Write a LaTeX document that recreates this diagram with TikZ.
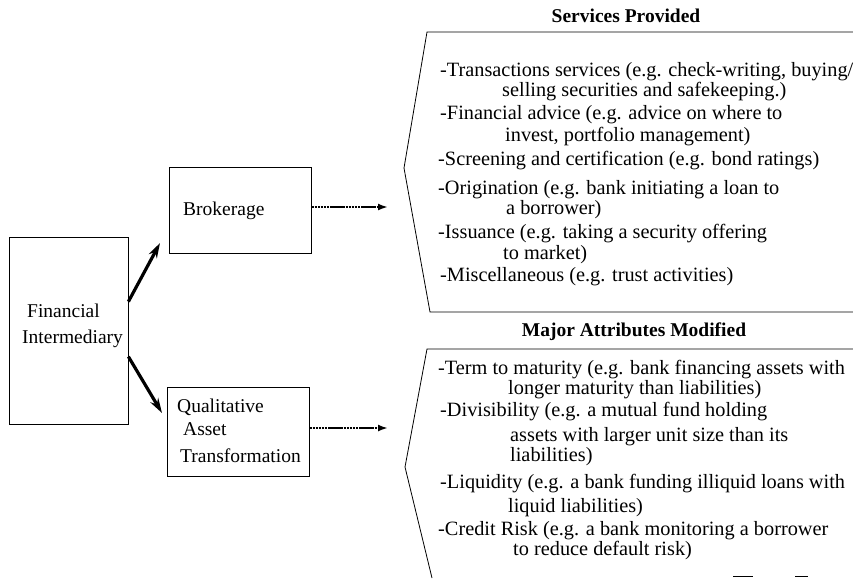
\documentclass[tikz,border=0pt]{standalone}
\usepackage{fontspec}
\setmainfont{Liberation Serif}
\usetikzlibrary{arrows.meta}
\begin{document}
\begin{tikzpicture}[x=1pt,y=-1pt,
  font=\fontsize{19.5}{21}\selectfont,
  box/.style={draw, line width=0.8pt, inner sep=0pt},
  txt/.style={anchor=base west, inner sep=0pt},
  ltxt/.style={anchor=base west, inner sep=0pt, font=\fontsize{20.3}{22}\selectfont},
  hd/.style={anchor=base, inner sep=0pt, font=\fontsize{19.5}{21}\selectfont\bfseries},
  bigarrow/.style={line width=3.2pt, -{Stealth[length=15pt,width=9pt]}},
  dotarrow/.style={line width=2.6pt, dash pattern=on 2.5pt off 0.6pt, -{Latex[length=10pt,width=7pt]}},
  bracket/.style={line width=0.8pt, line join=miter}]
\useasboundingbox (0,0) rectangle (853,578);

% boxes
\node[box, minimum width=119pt, minimum height=187pt] (fi) at (68.5,330.5) {};
\node[box, minimum width=142pt, minimum height=86pt] (brok) at (240,210) {};
\node[box, minimum width=142pt, minimum height=89pt] (qat) at (238,431.5) {};

% box texts
\node[txt] (fi1) at (27,317) {Financial};
\node[txt] (fi2) at (22,343) {Intermediary};
\node[txt] (br1) at (183,215) {Brokerage};
\node[txt] (q1) at (177,412) {Qualitative};
\node[txt] (q2) at (183,435) {Asset};
\node[txt] (q3) at (180,462) {Transformation};

% thick arrows
\coordinate (tip1) at (160,243);
\coordinate (tip2) at (162,413);
\draw[bigarrow] ([yshift=-65pt]fi.north east) -- (tip1);
\draw[bigarrow] ([yshift=-120pt]fi.north east) -- (tip2);

% dotted arrows
\coordinate (e1) at (388,207);
\coordinate (e2) at (388,428);
\draw[dotarrow] ([yshift=3pt]brok.east) -- (e1);
\draw[dotarrow] ([yshift=3.5pt]qat.east) -- (e2);

% brackets
\draw[bracket] (853,32) -- (427,32) -- (404,168) -- (430,312) -- (853,312);
\draw[bracket] (853,349) -- (427,349) -- (405,467) -- (432,578);
\draw[bracket] (733,576) -- (753,576);
\draw[bracket] (795,576) -- (808,576);

% services
\node[hd] (h1) at (626,23) {Services Provided};
\node[ltxt] (s1) at (440,76) {-Transactions services (e.g. check-writing, buying/};
\node[ltxt] (s2) at (502,96) {selling securities and safekeeping.)};
\node[ltxt] (s3) at (440,119) {-Financial advice (e.g. advice on where to};
\node[ltxt] (s4) at (505,141) {invest, portfolio management)};
\node[ltxt] (s5) at (438,165) {-Screening and certification (e.g. bond ratings)};
\node[ltxt] (s6) at (438,194) {-Origination (e.g. bank initiating a loan to};
\node[ltxt] (s7) at (506,214) {a borrower)};
\node[ltxt] (s8) at (438,238) {-Issuance (e.g. taking a security offering};
\node[ltxt] (s9) at (503,259) {to market)};
\node[ltxt] (s10) at (440,281) {-Miscellaneous (e.g. trust activities)};

% attributes
\node[hd] (h2) at (634,336) {Major Attributes Modified};
\node[ltxt] (m1) at (438,374) {-Term to maturity (e.g. bank financing assets with};
\node[ltxt] (m2) at (508,394) {longer maturity than liabilities)};
\node[ltxt] (m3) at (440,416) {-Divisibility (e.g. a mutual fund holding};
\node[ltxt] (m4) at (510,441) {assets with larger unit size than its};
\node[ltxt] (m5) at (510,461) {liabilities)};
\node[ltxt] (m6) at (440,488) {-Liquidity (e.g. a bank funding illiquid loans with};
\node[ltxt] (m7) at (508,512) {liquid liabilities)};
\node[ltxt] (m8) at (438,535) {-Credit Risk (e.g. a bank monitoring a borrower};
\node[ltxt] (m9) at (513,555) {to reduce default risk)};
\end{tikzpicture}
\end{document}
